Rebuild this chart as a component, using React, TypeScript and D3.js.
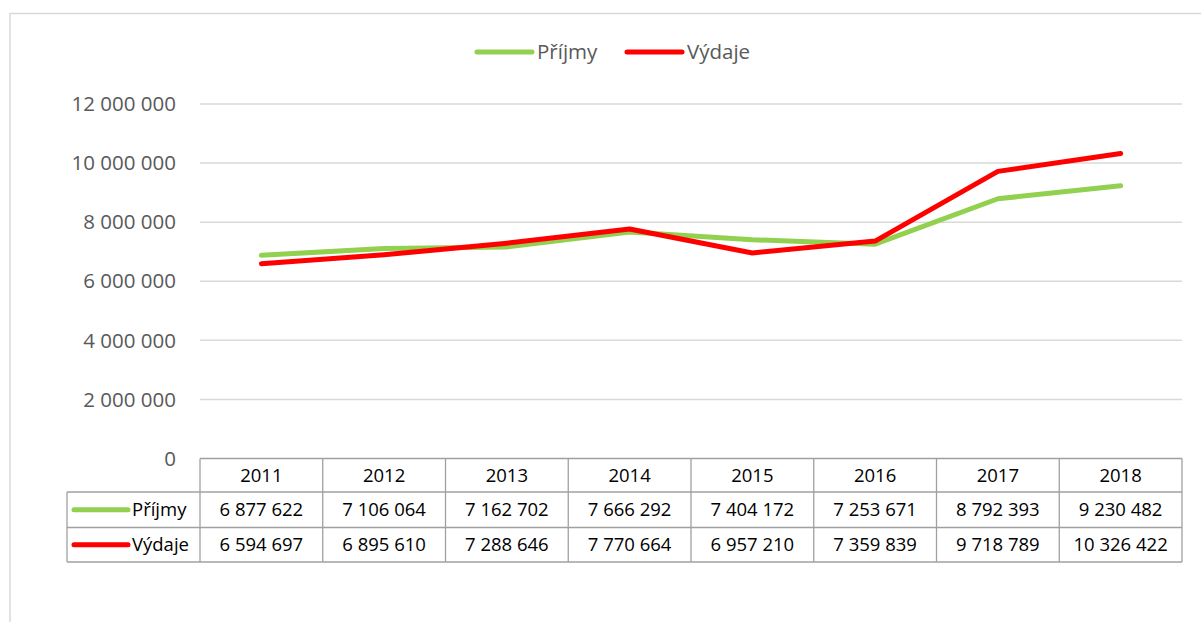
import React from "react";
import * as d3 from "d3";

const years = ["2011", "2012", "2013", "2014", "2015", "2016", "2017", "2018"];
const prijmy = [6877622, 7106064, 7162702, 7666292, 7404172, 7253671, 8792393, 9230482];
const vydaje = [6594697, 6895610, 7288646, 7770664, 6957210, 7359839, 9718789, 10326422];
const yTicks = [0, 2000000, 4000000, 6000000, 8000000, 10000000, 12000000];

const seriesNames = ["Příjmy", "Výdaje"];
const seriesColors = ["#92D050", "#FF0000"];

const W = 1201;
const H = 622;
const FONT = "'Open Sans', 'Noto Sans', sans-serif";

const fmt = (v: number) => {
  const s = Math.round(v).toString();
  return s.replace(/\B(?=(\d{3})+(?!\d))/g, " ");
};

export default function App() {
  const plotLeft = 200;
  const plotRight = 1182;
  const x = d3.scaleBand<string>().domain(years).range([plotLeft, plotRight]);
  const y = d3.scaleLinear().domain([0, 12000000]).range([458.5, 104]);
  const xc = (d: string) => (x(d) as number) + x.bandwidth() / 2;

  const line = d3
    .line<number>()
    .x((_, i) => xc(years[i]))
    .y((d) => y(d));

  const series = [prijmy, vydaje];

  const rowTop = 458.5;
  const rowH = [33.5, 35.5, 34.5];
  const rowY = [rowTop, rowTop + rowH[0], rowTop + rowH[0] + rowH[1], rowTop + rowH[0] + rowH[1] + rowH[2]];
  const tableLeft = 67;
  const borderColor = "#a0a0a0";

  return (
    <svg
      width={W}
      height={H}
      style={{ position: "absolute", left: 0, top: 0, background: "#fff" }}
      fontFamily={FONT}
    >
      <rect x={10} y={13.5} width={1250} height={700} fill="#fff" stroke="#d9d9d9" strokeWidth={1.5} />

      {/* legend */}
      {seriesNames.map((n, i) => {
        const x0 = i === 0 ? 477 : 627;
        return (
          <g key={n}>
            <line x1={x0} x2={x0 + 55} y1={52} y2={52} stroke={seriesColors[i]} strokeWidth={5} strokeLinecap="round" />
            <text x={x0 + 60} y={52} dy="0.35em" fontSize={20.5} fill="#595959">
              {n}
            </text>
          </g>
        );
      })}

      {/* gridlines + y labels */}
      {yTicks.map((t) => (
        <g key={t}>
          {t !== 0 && (
            <line x1={plotLeft} x2={plotRight} y1={y(t)} y2={y(t)} stroke="#d9d9d9" strokeWidth={1.5} />
          )}
          <text x={176} y={y(t)} dy="0.35em" textAnchor="end" fontSize={20.5} fill="#595959">
            {fmt(t)}
          </text>
        </g>
      ))}

      {/* lines */}
      {series.map((s, i) => (
        <path
          key={i}
          d={line(s) as string}
          fill="none"
          stroke={seriesColors[i]}
          strokeWidth={5}
          strokeLinecap="round"
          strokeLinejoin="round"
        />
      ))}

      {/* data table */}
      <g stroke={borderColor} strokeWidth={1.3} fill="none">
        {/* header row */}
        <line x1={plotLeft} x2={plotRight} y1={rowY[0]} y2={rowY[0]} />
        <line x1={tableLeft} x2={plotRight} y1={rowY[1]} y2={rowY[1]} />
        <line x1={tableLeft} x2={plotRight} y1={rowY[2]} y2={rowY[2]} />
        <line x1={tableLeft} x2={plotRight} y1={rowY[3]} y2={rowY[3]} />
        <line x1={tableLeft} x2={tableLeft} y1={rowY[1]} y2={rowY[3]} />
        {years.map((yr) => (
          <line key={yr} x1={x(yr) as number} x2={x(yr) as number} y1={rowY[0]} y2={rowY[3]} />
        ))}
        <line x1={plotRight} x2={plotRight} y1={rowY[0]} y2={rowY[3]} />
      </g>
      {years.map((yr) => (
        <text
          key={yr}
          x={xc(yr)}
          y={(rowY[0] + rowY[1]) / 2}
          dy="0.35em"
          textAnchor="middle"
          fontSize={18.5}
          fill="#000"
        >
          {yr}
        </text>
      ))}
      {series.map((s, si) => (
        <g key={si}>
          <line
            x1={74}
            x2={128}
            y1={(rowY[si + 1] + rowY[si + 2]) / 2}
            y2={(rowY[si + 1] + rowY[si + 2]) / 2}
            stroke={seriesColors[si]}
            strokeWidth={5}
            strokeLinecap="round"
          />
          <text x={132} y={(rowY[si + 1] + rowY[si + 2]) / 2} dy="0.35em" fontSize={18.5} fill="#000">
            {seriesNames[si]}
          </text>
          {s.map((v, i) => (
            <text
              key={i}
              x={xc(years[i])}
              y={(rowY[si + 1] + rowY[si + 2]) / 2}
              dy="0.35em"
              textAnchor="middle"
              fontSize={18.5}
              fill="#000"
            >
              {fmt(v)}
            </text>
          ))}
        </g>
      ))}
    </svg>
  );
}
